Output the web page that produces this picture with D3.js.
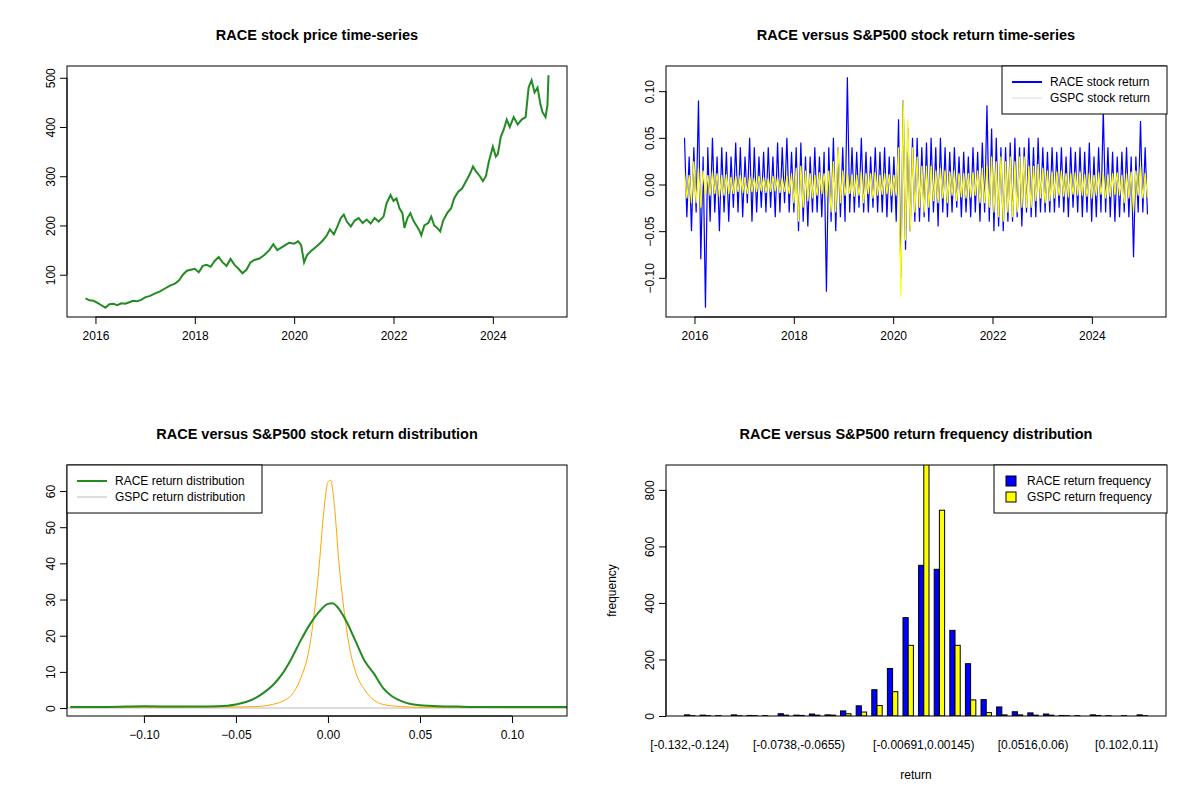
<!DOCTYPE html>
<html>
<head>
<meta charset="utf-8">
<script src="https://cdn.jsdelivr.net/npm/d3@7"></script>
<style>
  body { margin: 0; background: #fff; }
  text { font-family: "Liberation Sans", Arial, sans-serif; }
</style>
</head>
<body>
<div id="chart"></div>
<script>
/*global d3*/
var W = 1200, H = 800;

// monthly-ish RACE price
var price = [
  [2015.80, 52], [2015.88, 48], [2015.96, 47], [2016.04, 43], [2016.12, 38], [2016.2, 33], [2016.28, 40],
  [2016.36, 41], [2016.44, 38], [2016.52, 42], [2016.6, 41], [2016.68, 44], [2016.76, 47], [2016.84, 46],
  [2016.92, 49], [2017.0, 54], [2017.1, 57], [2017.2, 62], [2017.3, 66], [2017.4, 72], [2017.5, 78],
  [2017.6, 82], [2017.68, 88], [2017.76, 100], [2017.84, 108], [2017.92, 110], [2018.0, 112], [2018.08, 105],
  [2018.16, 118], [2018.24, 120], [2018.32, 116], [2018.4, 128], [2018.48, 136], [2018.56, 125], [2018.64, 118],
  [2018.72, 132], [2018.8, 120], [2018.88, 112], [2018.96, 103], [2019.04, 110], [2019.12, 125], [2019.2, 130],
  [2019.3, 133], [2019.4, 140], [2019.5, 150], [2019.58, 162], [2019.66, 150], [2019.74, 155], [2019.82, 160],
  [2019.9, 165], [2020.0, 163], [2020.08, 168], [2020.14, 160], [2020.2, 125], [2020.26, 140], [2020.34, 148],
  [2020.42, 155], [2020.5, 162], [2020.58, 170], [2020.66, 180], [2020.72, 192], [2020.8, 182], [2020.88, 200],
  [2020.94, 215], [2021.0, 222], [2021.06, 208], [2021.14, 198], [2021.22, 210], [2021.3, 215], [2021.38, 205],
  [2021.46, 212], [2021.54, 204], [2021.62, 215], [2021.7, 208], [2021.8, 218], [2021.86, 245], [2021.94, 262],
  [2022.0, 250], [2022.06, 255], [2022.12, 235], [2022.18, 225], [2022.22, 195], [2022.28, 215], [2022.34, 225],
  [2022.4, 210], [2022.46, 200], [2022.52, 190], [2022.56, 180], [2022.62, 200], [2022.7, 205], [2022.76, 218],
  [2022.82, 200], [2022.88, 195], [2022.94, 188], [2023.0, 210], [2023.08, 225], [2023.16, 235], [2023.22, 255],
  [2023.3, 268], [2023.38, 275], [2023.46, 290], [2023.54, 305], [2023.6, 320], [2023.66, 310], [2023.74, 300],
  [2023.8, 290], [2023.86, 300], [2023.92, 330], [2024.0, 360], [2024.06, 340], [2024.1, 345], [2024.16, 380],
  [2024.22, 395], [2024.28, 415], [2024.34, 400], [2024.42, 420], [2024.5, 405], [2024.58, 415], [2024.66, 420],
  [2024.72, 480], [2024.78, 495], [2024.84, 470], [2024.9, 480], [2024.96, 445], [2025.0, 430], [2025.06, 420],
  [2025.1, 445], [2025.12, 505]
];

var raceRet = [
  0.05, -0.035, 0.03, -0.05, 0.04, -0.03, 0.09, -0.08, 0.03, -0.132,
  0.04, -0.04, 0.05, -0.03, 0.03, -0.05, 0.04, -0.03, 0.035, -0.04,
  0.03, -0.025, 0.045, -0.03, 0.04, -0.035, 0.03, -0.02, 0.05, -0.04,
  0.04, -0.03, 0.03, -0.025, 0.035, -0.03, 0.04, -0.025, 0.03, -0.035,
  0.045, -0.03, 0.04, -0.02, 0.05, -0.03, 0.035, -0.03, 0.04, -0.05,
  0.045, -0.04, 0.03, -0.045, 0.03, -0.03, 0.04, -0.03, 0.03, -0.035,
  0.035, -0.115, 0.04, -0.04, 0.05, -0.05, 0.04, -0.035, 0.04, -0.04,
  0.115, -0.03, 0.04, -0.03, 0.035, -0.025, 0.05, -0.03, 0.035, -0.03,
  0.03, -0.025, 0.04, -0.03, 0.035, -0.03, 0.04, -0.035, 0.03, -0.03,
  0.03, -0.04, 0.07, -0.1, 0.09, -0.07, 0.06, -0.05, 0.05, -0.04,
  0.05, -0.04, 0.04, -0.035, 0.045, -0.04, 0.05, -0.03, 0.04, -0.045,
  0.05, -0.03, 0.04, -0.035, 0.035, -0.03, 0.04, -0.025, 0.03, -0.035,
  0.035, -0.03, 0.03, -0.035, 0.04, -0.03, 0.035, -0.04, 0.045, -0.03,
  0.085, -0.04, 0.06, -0.05, 0.05, -0.045, 0.04, -0.05, 0.04, -0.04,
  0.045, -0.04, 0.05, -0.035, 0.04, -0.045, 0.04, -0.03, 0.05, -0.035,
  0.04, -0.035, 0.05, -0.03, 0.04, -0.03, 0.035, -0.03, 0.04, -0.03,
  0.035, -0.025, 0.04, -0.03, 0.03, -0.035, 0.04, -0.025, 0.035, -0.03,
  0.04, -0.035, 0.035, -0.03, 0.045, -0.04, 0.03, -0.035, 0.04, -0.03,
  0.08, -0.03, 0.04, -0.035, 0.035, -0.04, 0.03, -0.035, 0.035, -0.03,
  0.04, -0.035, 0.03, -0.078, 0.03, -0.03, 0.068, -0.03, 0.04, -0.032
];

var gspcRet = [
  0.012, -0.015, 0.01, -0.02, 0.025, -0.02, 0.018, -0.025, 0.015, -0.012,
  0.01, -0.012, 0.014, -0.01, 0.012, -0.013, 0.01, -0.012, 0.011, -0.01,
  0.008, -0.01, 0.009, -0.008, 0.01, -0.009, 0.008, -0.01, 0.009, -0.008,
  0.007, -0.008, 0.009, -0.007, 0.008, -0.009, 0.007, -0.008, 0.009, -0.007,
  0.008, -0.009, 0.007, -0.008, 0.009, -0.01, 0.012, -0.02, 0.018, -0.04,
  0.02, -0.025, 0.015, -0.018, 0.012, -0.015, 0.01, -0.012, 0.013, -0.01,
  0.012, -0.015, 0.015, -0.03, 0.025, -0.03, 0.04, -0.02, 0.015, -0.012,
  0.012, -0.01, 0.011, -0.013, 0.01, -0.012, 0.014, -0.02, 0.012, -0.01,
  0.012, -0.015, 0.013, -0.012, 0.01, -0.011, 0.012, -0.01, 0.011, -0.012,
  0.01, -0.012, 0.04, -0.12, 0.09, -0.06, 0.07, -0.05, 0.04, -0.03,
  0.03, -0.025, 0.02, -0.03, 0.02, -0.025, 0.02, -0.018, 0.015, -0.02,
  0.018, -0.015, 0.015, -0.02, 0.014, -0.012, 0.015, -0.018, 0.012, -0.014,
  0.012, -0.015, 0.012, -0.014, 0.013, -0.012, 0.015, -0.02, 0.018, -0.02,
  0.02, -0.025, 0.03, -0.03, 0.025, -0.035, 0.03, -0.04, 0.025, -0.03,
  0.03, -0.035, 0.025, -0.03, 0.03, -0.025, 0.03, -0.025, 0.02, -0.025,
  0.02, -0.018, 0.022, -0.015, 0.018, -0.02, 0.015, -0.018, 0.014, -0.015,
  0.014, -0.012, 0.015, -0.013, 0.012, -0.014, 0.012, -0.011, 0.013, -0.012,
  0.014, -0.012, 0.011, -0.013, 0.012, -0.015, 0.01, -0.012, 0.013, -0.011,
  0.012, -0.015, 0.011, -0.013, 0.012, -0.011, 0.013, -0.012, 0.01, -0.02,
  0.012, -0.015, 0.014, -0.03, 0.015, -0.012, 0.02, -0.015, 0.012, -0.014
];

var densRace = [
  [-0.14, 0.3], [-0.12, 0.3], [-0.1, 0.5], [-0.08, 0.4], [-0.07, 0.4], [-0.06, 0.5], [-0.05, 1.0],
  [-0.045, 1.6], [-0.04, 2.6], [-0.035, 4.2], [-0.03, 6.3], [-0.025, 9.3], [-0.02, 13.5], [-0.015, 18.5],
  [-0.01, 23], [-0.005, 26.5], [0, 28.8], [0.0025, 29], [0.005, 28], [0.01, 24], [0.015, 18.5],
  [0.02, 13], [0.025, 9.5], [0.03, 5.5], [0.035, 3.2], [0.04, 1.9], [0.045, 1.1], [0.05, 0.8],
  [0.06, 0.5], [0.07, 0.4], [0.08, 0.3], [0.1, 0.3], [0.12, 0.3], [0.13, 0.3]
];
var densGspc = [
  [-0.14, 0.1], [-0.1, 0.2], [-0.08, 0.2], [-0.06, 0.3], [-0.05, 0.3], [-0.04, 0.4], [-0.03, 1.0],
  [-0.025, 1.8], [-0.02, 3.5], [-0.015, 8], [-0.01, 17], [-0.0075, 26], [-0.005, 38], [-0.0025, 53],
  [0, 62.5], [0.0015, 63], [0.0035, 56], [0.006, 40], [0.009, 26], [0.012, 16], [0.015, 10],
  [0.02, 5], [0.025, 2.2], [0.03, 1.0], [0.04, 0.4], [0.05, 0.2], [0.07, 0.2], [0.1, 0.1], [0.13, 0.1]
];

var bins = [
  "[-0.132,-0.124)", "", "", "", "", "", "", "[-0.0738,-0.0655)", "", "", "", "", "", "", "",
  "[-0.00691,0.00145)", "", "", "", "", "", "", "[0.0516,0.06)", "", "", "", "", "", "[0.102,0.11)", ""
];
var freqRace = [4, 3, 1, 4, 2, 1, 8, 3, 7, 4, 18, 36, 93, 168, 348, 533, 519, 303, 185, 58, 32, 15, 11, 7, 2, 1, 4, 1, 1, 4];
var freqGspc = [1, 1, 0, 1, 1, 0, 3, 2, 3, 3, 8, 14, 37, 86, 250, 950, 728, 250, 57, 12, 4, 4, 3, 3, 1, 0, 2, 0, 0, 1];

var svg = d3.select("#chart").append("svg").attr("width", W).attr("height", H);

function rng(lo, hi) { var e = (hi - lo) * 0.04; return [lo - e, hi + e]; }

function panel(x0, y0, title) {
  var g = { x0: x0, y0: y0, x1: x0 + 500, y1: y0 + 251 };
  svg.append("text").attr("x", (g.x0 + g.x1) / 2).attr("y", y0 - 26)
    .attr("text-anchor", "middle").attr("font-size", 14.5).attr("font-weight", "bold").text(title);
  g.clip = "clip" + x0 + "_" + y0;
  svg.append("clipPath").attr("id", g.clip).append("rect")
    .attr("x", g.x0).attr("y", g.y0).attr("width", 500).attr("height", 251);
  return g;
}
function box(g) {
  svg.append("rect").attr("x", g.x0).attr("y", g.y0).attr("width", 500).attr("height", 251)
    .attr("fill", "none").attr("stroke", "#000");
}
function xAxis(g, x, ticks, fmt) {
  var a = svg.append("g").attr("transform", "translate(0," + g.y1 + ")")
    .call(d3.axisBottom(x).tickValues(ticks).tickSize(7).tickFormat(fmt));
  a.select(".domain").attr("d", "M" + x(ticks[0]) + ",0H" + x(ticks[ticks.length - 1]));
  a.selectAll("text").attr("font-size", 12).attr("dy", "1.1em");
}
function yAxis(g, y, ticks, fmt) {
  var a = svg.append("g").attr("transform", "translate(" + g.x0 + ",0)")
    .call(d3.axisLeft(y).tickValues(ticks).tickSize(7).tickFormat(fmt));
  a.select(".domain").attr("d", "M0," + y(ticks[0]) + "V" + y(ticks[ticks.length - 1]));
  a.selectAll("text").attr("font-size", 12).attr("text-anchor", "middle")
    .attr("x", 0).attr("dy", 0).attr("transform", "translate(-12,0) rotate(-90)");
}
function legend(x, y, w, items, kind) {
  svg.append("rect").attr("x", x).attr("y", y).attr("width", w).attr("height", 48)
    .attr("fill", "#fff").attr("stroke", "#000");
  items.forEach(function (it, i) {
    var cy = y + 16 + i * 16;
    if (kind === "line") {
      svg.append("line").attr("x1", x + 10).attr("x2", x + 40).attr("y1", cy).attr("y2", cy)
        .attr("stroke", it.c).attr("stroke-width", it.w);
      svg.append("text").attr("x", x + 48).attr("y", cy + 4).attr("font-size", 12).text(it.t);
    } else {
      svg.append("rect").attr("x", x + 12).attr("y", cy - 5).attr("width", 10).attr("height", 10)
        .attr("fill", it.c).attr("stroke", "#000");
      svg.append("text").attr("x", x + 33).attr("y", cy + 4).attr("font-size", 12).text(it.t);
    }
  });
}

// ---- panel 1: price
(function () {
  var g = panel(67, 66, "RACE stock price time-series");
  var x = d3.scaleLinear().domain(rng(2015.8, 2025.12)).range([g.x0, g.x1]);
  var y = d3.scaleLinear().domain(rng(33, 505)).range([g.y1, g.y0]);
  svg.append("path").datum(price).attr("fill", "none").attr("stroke", "#228B22").attr("stroke-width", 2)
    .attr("d", d3.line().x(function (d) { return x(d[0]); }).y(function (d) { return y(d[1]); }));
  box(g);
  xAxis(g, x, [2016, 2018, 2020, 2022, 2024], d3.format("d"));
  yAxis(g, y, [100, 200, 300, 400, 500], d3.format("d"));
}());

// ---- panel 2: returns
(function () {
  var g = panel(666, 66, "RACE versus S&P500 stock return time-series");
  var x = d3.scaleLinear().domain(rng(2015.8, 2025.12)).range([g.x0, g.x1]);
  var y = d3.scaleLinear().domain(rng(-0.132, 0.117)).range([g.y1, g.y0]);
  function ln(arr) {
    var n = arr.length;
    return d3.line().x(function (d, i) { return x(2015.8 + i * (9.32 / (n - 1))); })
      .y(function (d) { return y(d); })(arr);
  }
  svg.append("path").attr("d", ln(raceRet)).attr("fill", "none").attr("stroke", "#0000ff").attr("stroke-width", 1.2);
  svg.append("path").attr("d", ln(gspcRet)).attr("fill", "none").attr("stroke", "#ffff00").attr("stroke-width", 1.2);
  box(g);
  xAxis(g, x, [2016, 2018, 2020, 2022, 2024], d3.format("d"));
  yAxis(g, y, [-0.1, -0.05, 0, 0.05, 0.1], d3.format(".2f"));
  legend(1002, 66, 165, [{ t: "RACE stock return", c: "#0000ff", w: 2 }, { t: "GSPC stock return", c: "#dddddd", w: 1 }], "line");
}());

// ---- panel 3: density
(function () {
  var g = panel(67, 465, "RACE versus S&P500 stock return distribution");
  var x = d3.scaleLinear().domain([-0.1418, 0.1299]).range([g.x0, g.x1]);
  var y = d3.scaleLinear().domain([-2.2, 67.2]).range([g.y1, g.y0]);
  var line = d3.line().curve(d3.curveMonotoneX).x(function (d) { return x(d[0]); }).y(function (d) { return y(d[1]); });
  svg.append("line").attr("x1", g.x0).attr("x2", g.x1).attr("y1", y(0)).attr("y2", y(0)).attr("stroke", "#bbbbbb");
  var c = svg.append("g").attr("clip-path", "url(#" + g.clip + ")");
  c.append("path").datum(densGspc).attr("d", line).attr("fill", "none").attr("stroke", "orange").attr("stroke-width", 1);
  c.append("path").datum(densRace).attr("d", line).attr("fill", "none").attr("stroke", "#228B22").attr("stroke-width", 2);
  box(g);
  xAxis(g, x, [-0.1, -0.05, 0, 0.05, 0.1], d3.format(".2f"));
  yAxis(g, y, [0, 10, 20, 30, 40, 50, 60], d3.format("d"));
  legend(67, 465, 195, [{ t: "RACE return distribution", c: "#228B22", w: 2 }, { t: "GSPC return distribution", c: "#bbbbbb", w: 1 }], "line");
}());

// ---- panel 4: histogram
(function () {
  var g = panel(666, 465, "RACE versus S&P500 return frequency distribution");
  var n = bins.length;
  var x = d3.scaleLinear().domain(rng(1, 3 * n)).range([g.x0, g.x1]);
  var y = d3.scaleLinear().domain([0, 888]).range([g.y1, g.y0]);
  var c = svg.append("g").attr("clip-path", "url(#" + g.clip + ")");
  [[freqRace, "#0000ff", 1], [freqGspc, "#ffff00", 2]].forEach(function (s) {
    c.selectAll(null).data(s[0]).enter().append("rect")
      .attr("x", function (d, i) { return x(3 * i + s[2]); })
      .attr("width", x(2) - x(1))
      .attr("y", function (d) { return y(d); })
      .attr("height", function (d) { return y(0) - y(d); })
      .attr("fill", s[1]).attr("stroke", "#000").attr("stroke-width", 1);
  });
  box(g);
  yAxis(g, y, [0, 200, 400, 600, 800], d3.format("d"));
  svg.append("g").selectAll("text").data(bins).enter().append("text")
    .attr("x", function (d, i) { return x(3 * i + 2); }).attr("y", 749)
    .attr("text-anchor", "middle").attr("font-size", 12).text(function (d) { return d; });
  svg.append("text").attr("x", (g.x0 + g.x1) / 2).attr("y", 779).attr("text-anchor", "middle")
    .attr("font-size", 12).text("return");
  svg.append("text").attr("transform", "translate(616," + (g.y0 + g.y1) / 2 + ") rotate(-90)")
    .attr("text-anchor", "middle").attr("font-size", 12).text("frequency");
  legend(994, 465, 173, [{ t: "RACE return frequency", c: "#0000ff" }, { t: "GSPC return frequency", c: "#ffff00" }], "box");
}());
</script>
</body>
</html>
